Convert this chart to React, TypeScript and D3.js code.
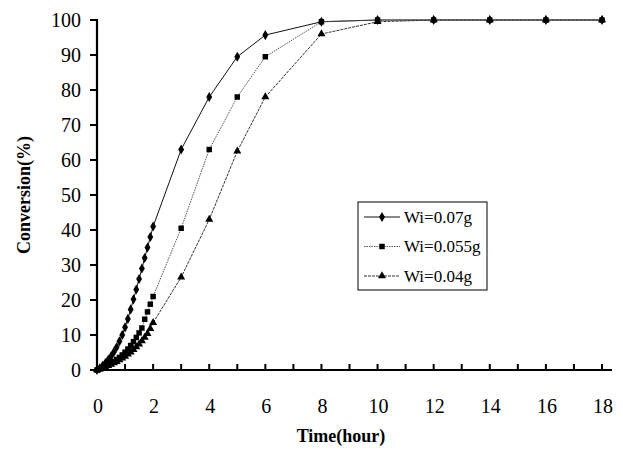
import { useMemo } from "react";
import * as d3 from "d3";

const width = 623;
const height = 456;
const margin = { top: 20, right: 21, bottom: 86, left: 97 };
const font = "'Liberation Serif'";

// time points (hours): dense sampling up to 2 h, then hourly/2-hourly
const denseTimes = [0, 0.1, 0.2, 0.3, 0.4, 0.5, 0.6, 0.7, 0.8, 0.9, 1.0, 1.1, 1.2, 1.3, 1.4, 1.5, 1.6, 1.7, 1.8, 1.9, 2.0];
const laterTimes = [3, 4, 5, 6, 8, 10, 12, 14, 16, 18];

const wi070Dense = [0, 0.5, 1.2, 2.0, 2.9, 3.9, 5.1, 6.5, 8.2, 10.0, 12.2, 14.6, 17.3, 20.2, 23.0, 26.0, 29.0, 32.0, 35.0, 38.0, 41.0];
const wi070Later = [63, 78, 89.5, 95.7, 99.5, 100, 100, 100, 100, 100];

const wi055Dense = [0, 0.3, 0.6, 1.0, 1.4, 1.9, 2.4, 3.0, 3.6, 4.3, 5.1, 6.0, 7.0, 8.1, 9.3, 10.6, 12.0, 14.5, 16.6, 18.8, 21.0];
const wi055Later = [40.5, 63, 78, 89.5, 99.5, 100, 100, 100, 100, 100];

const wi040Dense = [0, 0.2, 0.5, 0.8, 1.2, 1.6, 2.0, 2.4, 2.9, 3.4, 3.9, 4.5, 5.1, 5.8, 6.6, 7.4, 8.3, 9.3, 10.4, 11.8, 13.5];
const wi040Later = [26.5, 43, 62.5, 78, 96, 99.5, 100, 100, 100, 100];

const xTicks = [0, 2, 4, 6, 8, 10, 12, 14, 16, 18];
const yTicks = [0, 10, 20, 30, 40, 50, 60, 70, 80, 90, 100];

type Series = { label: string; symbol: d3.SymbolType; size: number; stroke: string; dash: string; values: number[] };

const times = [...denseTimes, ...laterTimes];
const series: Series[] = [
  { label: "Wi=0.07g", symbol: d3.symbolDiamond, size: 30, stroke: "#111", dash: "", values: [...wi070Dense, ...wi070Later] },
  { label: "Wi=0.055g", symbol: d3.symbolSquare, size: 30, stroke: "#555", dash: "1.5,1", values: [...wi055Dense, ...wi055Later] },
  { label: "Wi=0.04g", symbol: d3.symbolTriangle, size: 28, stroke: "#333", dash: "3,1", values: [...wi040Dense, ...wi040Later] }
];

export default function App() {
  const x = useMemo(() => d3.scaleLinear().domain([0, 18]).range([margin.left, width - margin.right]), []);
  const y = useMemo(() => d3.scaleLinear().domain([0, 100]).range([height - margin.bottom, margin.top]), []);
  const line = d3
    .line<[number, number]>()
    .x((d) => x(d[0]))
    .y((d) => y(d[1]));
  const minorTicks = d3.range(1, 19);
  const legend = { x: 358, y: 202, w: 129, h: 88 };

  return (
    <svg width={width} height={height} style={{ position: "absolute", left: 0, top: 0, background: "#fff" }}>
      <g fontFamily={font}>
      {series.map((s) => {
        const pts = times.map((t, i) => [t, s.values[i]] as [number, number]);
        return (
          <g key={s.label}>
            <path d={line(pts) ?? ""} fill="none" stroke={s.stroke} strokeWidth={1} strokeDasharray={s.dash} />
            {pts.map((p, i) => (
              <path
                key={i}
                transform={`translate(${x(p[0])},${y(p[1])})`}
                d={d3.symbol(s.symbol, s.size)() ?? ""}
                fill="#000"
              />
            ))}
          </g>
        );
      })}

      {/* axes */}
      <line x1={x(0)} x2={x(0)} y1={y(100) - 1} y2={y(0) + 1} stroke="#000" strokeWidth={2.2} />
      <line x1={x(0) - 1} x2={x(18) + 10} y1={y(0)} y2={y(0)} stroke="#000" strokeWidth={2.2} />
      {yTicks.map((t) => (
        <g key={t}>
          <line x1={x(0) - 7} x2={x(0)} y1={y(t)} y2={y(t)} stroke="#000" strokeWidth={2} />
          <text x={x(0) - 16} y={y(t)} dy="0.35em" textAnchor="end" fontSize={20}>
            {t}
          </text>
        </g>
      ))}
      {minorTicks.map((t) => (
        <line key={t} x1={x(t)} x2={x(t)} y1={y(0)} y2={y(0) - 6} stroke="#000" strokeWidth={2} />
      ))}
      {xTicks.map((t) => (
        <text key={t} x={x(t) + 1} y={y(0) + 43} textAnchor="middle" fontSize={20}>
          {t}
        </text>
      ))}

      <text x={341} y={442} textAnchor="middle" fontSize={18} fontWeight="bold">
        Time(hour)
      </text>
      <text transform={`translate(30,${(y(0) + y(100)) / 2}) rotate(-90)`} textAnchor="middle" fontSize={18} fontWeight="bold">
        Conversion(%)
      </text>

      {/* legend */}
      <rect x={legend.x} y={legend.y} width={legend.w} height={legend.h} fill="#fff" stroke="#000" strokeWidth={1} />
      {series.map((s, i) => {
        const ly = legend.y + 15 + i * 29.5;
        return (
          <g key={s.label}>
            <line x1={legend.x + 6} x2={legend.x + 42} y1={ly} y2={ly} stroke={s.stroke} strokeWidth={1} strokeDasharray={s.dash} />
            <path transform={`translate(${legend.x + 24},${ly})`} d={d3.symbol(s.symbol, s.size)() ?? ""} fill="#000" />
            <text x={legend.x + 46} y={ly} dy="0.35em" fontSize={17}>
              {s.label}
            </text>
          </g>
        );
      })}
      </g>
    </svg>
  );
}
